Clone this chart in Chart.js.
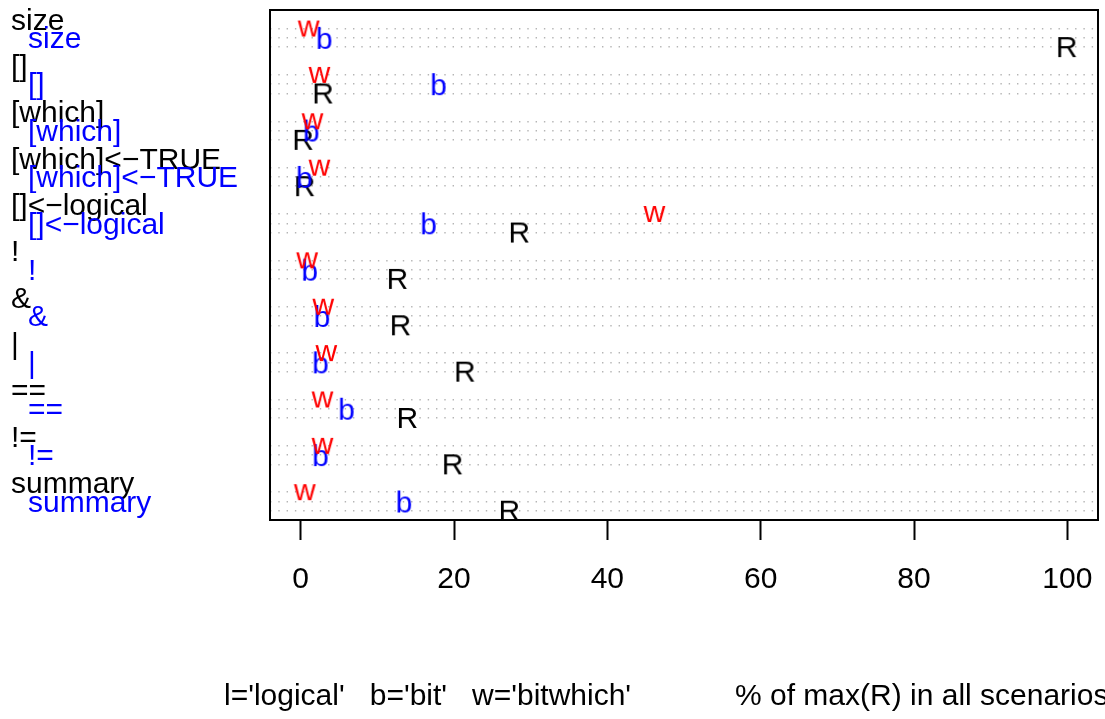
<!DOCTYPE html>
<html><head><meta charset="utf-8">
<script src="https://cdn.jsdelivr.net/npm/chart.js@4"></script>
<style>html,body{margin:0;padding:0;background:#fff;}</style>
</head><body>
<canvas id="c" width="1105" height="719"></canvas>
<script>
// ---- data ----
const categories = ['size', '[]', '[which]', '[which]<\u2212TRUE', '[]<\u2212logical', '!', '&', '|', '==', '!=', 'summary'];
const wValues = [1.0, 2.4, 1.5, 2.4, 46.1, 0.8, 2.9, 3.3, 2.8, 2.8, 0.5];   // w = 'bitwhich'
const bValues = [3.1, 18.0, 1.4, 0.5, 16.7, 1.2, 2.8, 2.6, 6.0, 2.6, 13.5]; // b = 'bit'
const rValues = [100, 3.0, 0.4, 0.6, 28.6, 12.7, 13.1, 21.5, 14.0, 19.9, 27.3]; // R = 'logical'
const xTicks = [0, 20, 40, 60, 80, 100];
const legendText = "l='logical'   b='bit'   w='bitwhich'";
const axisTitle = '% of max(R) in all scenarios';

const FAMILY = '"Liberation Sans", Arial, Helvetica, sans-serif';
const FONT = '30px ' + FAMILY;

function glyph(ch, color) {
  const c = document.createElement('canvas');
  c.width = 48; c.height = 48;
  const g = c.getContext('2d');
  g.font = FONT;
  const m = g.measureText(ch);
  g.fillStyle = color; g.textAlign = 'left'; g.textBaseline = 'alphabetic';
  const x = 24 - (m.actualBoundingBoxRight - m.actualBoundingBoxLeft) / 2;
  const y = 24 + (m.actualBoundingBoxAscent - m.actualBoundingBoxDescent) / 2;
  g.fillText(ch, x, y);
  return c;
}

// rows: group i occupies slots 5i (w), 5i+1 (b), 5i+2 (R)
const gridRows = [];
categories.forEach((_, i) => gridRows.push(5 * i, 5 * i + 1, 5 * i + 2));

function series(vals, k) { return vals.map((v, i) => ({ x: v, y: 5 * i + k })); }

const decor = {
  id: 'decor',
  afterDraw(chart) {
    const { ctx, chartArea: a, scales: { y } } = chart;
    ctx.save();
    ctx.strokeStyle = '#000'; ctx.lineWidth = 2;
    ctx.strokeRect(a.left, a.top, a.right - a.left, a.bottom - a.top);
    ctx.font = FONT; ctx.textAlign = 'left'; ctx.textBaseline = 'middle';
    categories.forEach((lab, i) => {
      ctx.fillStyle = '#000';
      ctx.fillText(lab, 11, y.getPixelForValue(5 * i - 1) + 2);
      ctx.fillStyle = '#0000ff';
      ctx.fillText(lab, 28, y.getPixelForValue(5 * i + 1) + 2);
    });
    ctx.fillStyle = '#000'; ctx.textBaseline = 'alphabetic';
    ctx.fillText(legendText, 224, 705);
    ctx.fillText(axisTitle, 735, 705);
    ctx.restore();
  }
};

new Chart(document.getElementById('c'), {
  type: 'scatter',
  data: {
    datasets: [
      { label: 'w', data: series(wValues, 0), pointStyle: glyph('w', '#ff0000'), pointRadius: 10 },
      { label: 'b', data: series(bValues, 1), pointStyle: glyph('b', '#0000ff'), pointRadius: 10 },
      { label: 'R', data: series(rValues, 2), pointStyle: glyph('R', '#000000'), pointRadius: 10 }
    ]
  },
  options: {
    responsive: false,
    devicePixelRatio: 1,
    animation: false,
    events: [],
    layout: { autoPadding: false, padding: { left: 270, top: 10, right: 7, bottom: 0 } },
    plugins: { legend: { display: false }, tooltip: { enabled: false } },
    scales: {
      x: {
        type: 'linear', min: -4, max: 104,
        afterBuildTicks: s => { s.ticks = xTicks.map(v => ({ value: v })); },
        afterFit: s => { s.height = 199; s.paddingLeft = 0; s.paddingRight = 0; },
        ticks: { font: { size: 30, family: FAMILY }, color: '#000', padding: 22, maxRotation: 0, autoSkip: false },
        grid: { drawOnChartArea: false, drawTicks: true, tickLength: 20, tickColor: '#000', tickWidth: 2 },
        border: { display: false }
      },
      y: {
        type: 'linear', reverse: true, min: -2, max: 53,
        afterBuildTicks: s => { s.ticks = gridRows.map(v => ({ value: v })); },
        afterFit: s => { s.width = 0; s.paddingTop = 0; s.paddingBottom = 0; },
        ticks: { display: false },
        grid: { color: '#b5b5b5', lineWidth: 1.4, drawTicks: false },
        border: { display: false, dash: [1.4, 6.9] }
      }
    }
  },
  plugins: [decor]
});
</script>
</body></html>
